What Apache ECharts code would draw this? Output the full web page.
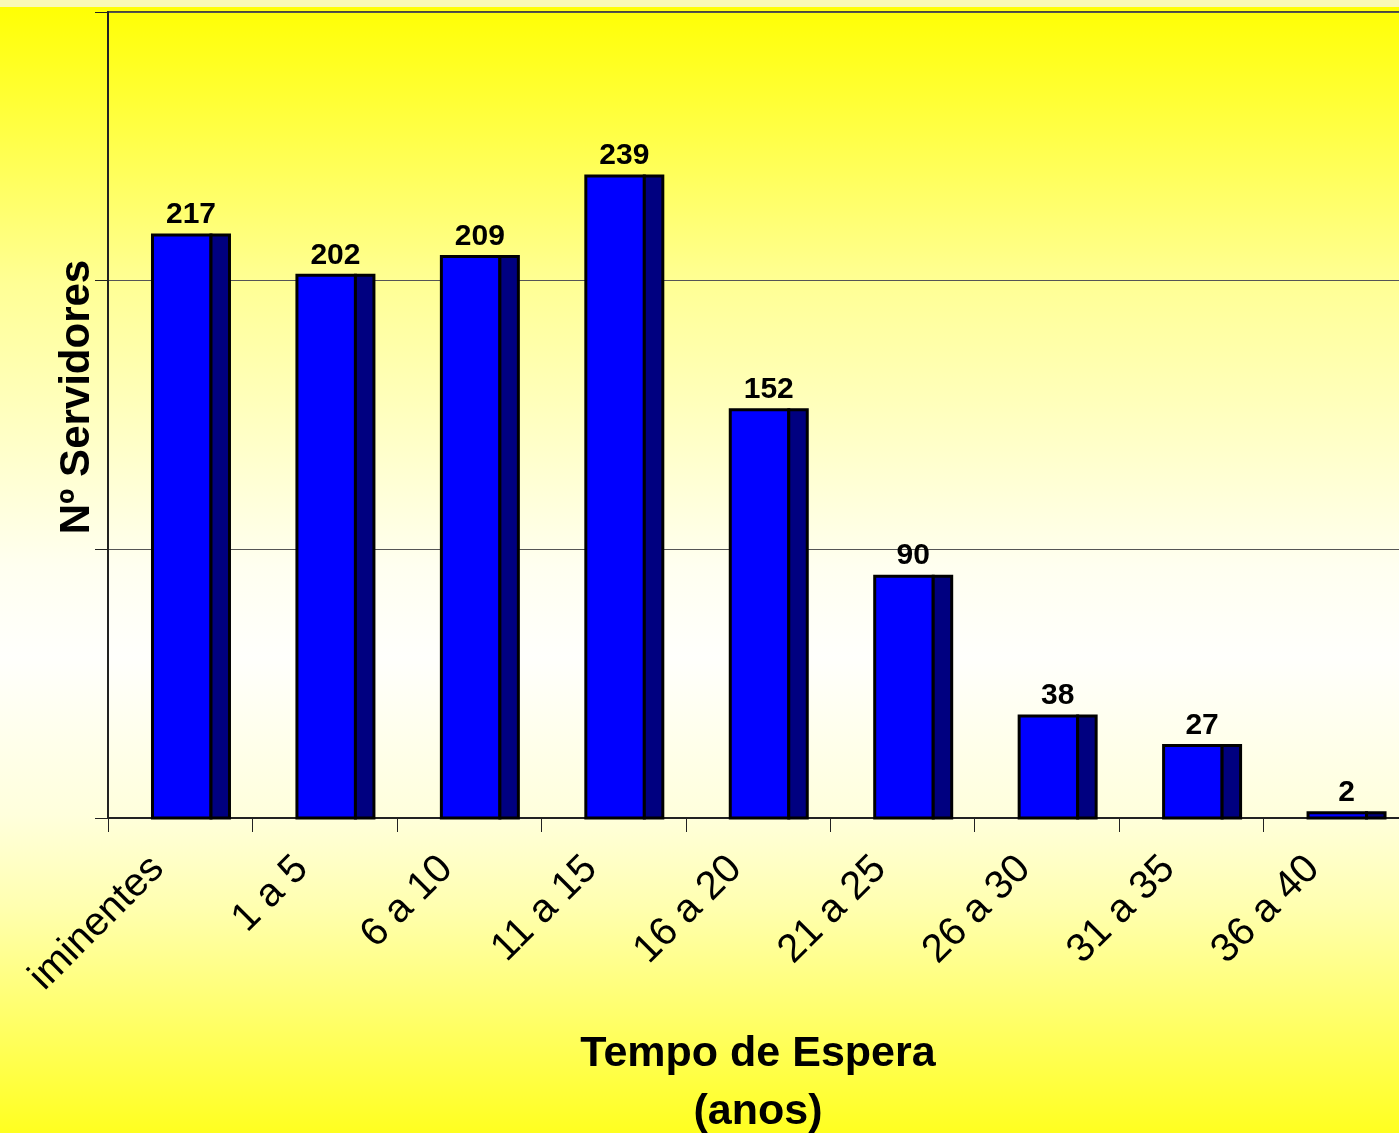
<!DOCTYPE html>
<html>
<head>
<meta charset="utf-8">
<title>Tempo de Espera</title>
<script src="https://cdn.jsdelivr.net/npm/echarts@6/dist/echarts.min.js"></script>
<style>
  html, body { margin: 0; padding: 0; }
  #chart { width: 1399px; height: 1133px; }
</style>
</head>
<body>
<div id="chart"></div>
<script>
const categories = ['iminentes', '1 a 5', '6 a 10', '11 a 15', '16 a 20', '21 a 25', '26 a 30', '31 a 35', '36 a 40'];
const servidores = [217, 202, 209, 239, 152, 90, 38, 27, 2];
const yMax = 300;
const yStep = 100;

const frontColor = '#0000FF';
const sideColor = '#000080';
const fontName = 'Liberation Sans, Arial, sans-serif';

const chart = echarts.init(document.getElementById('chart'));

// barra "3D": face da frente + lateral escura, com contorno preto
const renderBar = (params, api) => {
  const i = api.value(0);
  const v = api.value(1);
  const top = api.coord([i, v]);
  const base = api.coord([i, 0]);
  const bw = api.size([1, 0])[0];
  const cx = top[0];
  const xL = cx - bw * 0.192;
  const xM = cx + bw * 0.213;
  const xR = cx + bw * 0.341;
  const h = base[1] - top[1];
  const stroke = { stroke: '#000', lineWidth: 3 };
  return {
    type: 'group',
    children: [
      {
        type: 'rect',
        shape: { x: xL, y: top[1], width: xM - xL, height: h },
        style: Object.assign({ fill: frontColor }, stroke)
      },
      {
        type: 'rect',
        shape: { x: xM, y: top[1], width: xR - xM, height: h },
        style: Object.assign({ fill: sideColor }, stroke)
      },
      {
        type: 'text',
        x: (xL + xR) / 2,
        y: top[1] - 5,
        style: {
          text: String(v),
          fill: '#000',
          font: 'bold 30px ' + fontName,
          textAlign: 'center',
          textVerticalAlign: 'bottom'
        }
      }
    ]
  };
};

const option = {
  animation: false,
  backgroundColor: new echarts.graphic.LinearGradient(0, 0, 0, 1, [
    { offset: 0, color: '#FFFF00' },
    { offset: 0.25, color: '#FFFF95' },
    { offset: 0.5, color: '#FFFFF0' },
    { offset: 0.58, color: '#FFFFFC' },
    { offset: 0.72, color: '#FFFFDC' },
    { offset: 0.8, color: '#FFFFB0' },
    { offset: 1, color: '#FFFF20' }
  ]),
  graphic: [
    {
      type: 'rect',
      left: 0,
      top: 0,
      shape: { width: 1399, height: 7 },
      style: { fill: '#F9F9B6' }
    }
  ],
  grid: {
    left: 108,
    top: 12,
    width: 1300,
    height: 806,
    show: true,
    borderColor: '#4a4a30',
    borderWidth: 2,
    backgroundColor: 'transparent',
    outerBoundsMode: 'none'
  },
  xAxis: {
    type: 'category',
    data: categories,
    name: 'Tempo de Espera\n(anos)',
    nameLocation: 'middle',
    nameGap: 207,
    nameTextStyle: {
      fontFamily: fontName,
      fontWeight: 'bold',
      fontSize: 43,
      lineHeight: 58,
      color: '#000'
    },
    axisLine: { lineStyle: { color: '#222', width: 2 } },
    axisTick: { show: true, length: 14, lineStyle: { color: '#222' } },
    axisLabel: {
      interval: 0,
      rotate: 45,
      margin: 22,
      padding: [0, 32, 0, 0],
      fontFamily: fontName,
      fontSize: 40,
      color: '#000'
    }
  },
  yAxis: {
    type: 'value',
    min: 0,
    max: yMax,
    interval: yStep,
    name: 'Nº Servidores',
    nameLocation: 'middle',
    nameGap: 10,
    nameTextStyle: {
      fontFamily: fontName,
      fontWeight: 'bold',
      fontSize: 42,
      color: '#000',
      padding: [0, 0, 0, 36]
    },
    axisLine: { show: true, lineStyle: { color: '#222', width: 2 } },
    axisTick: { show: true, length: 13, lineStyle: { color: '#222' } },
    axisLabel: { show: false },
    splitLine: { show: true, lineStyle: { color: '#555', width: 1 } }
  },
  series: [
    {
      type: 'custom',
      renderItem: renderBar,
      data: servidores.map((v, i) => [i, v]),
      encode: { x: 0, y: 1 },
      z: 3
    }
  ]
};

chart.setOption(option);
</script>
</body>
</html>
